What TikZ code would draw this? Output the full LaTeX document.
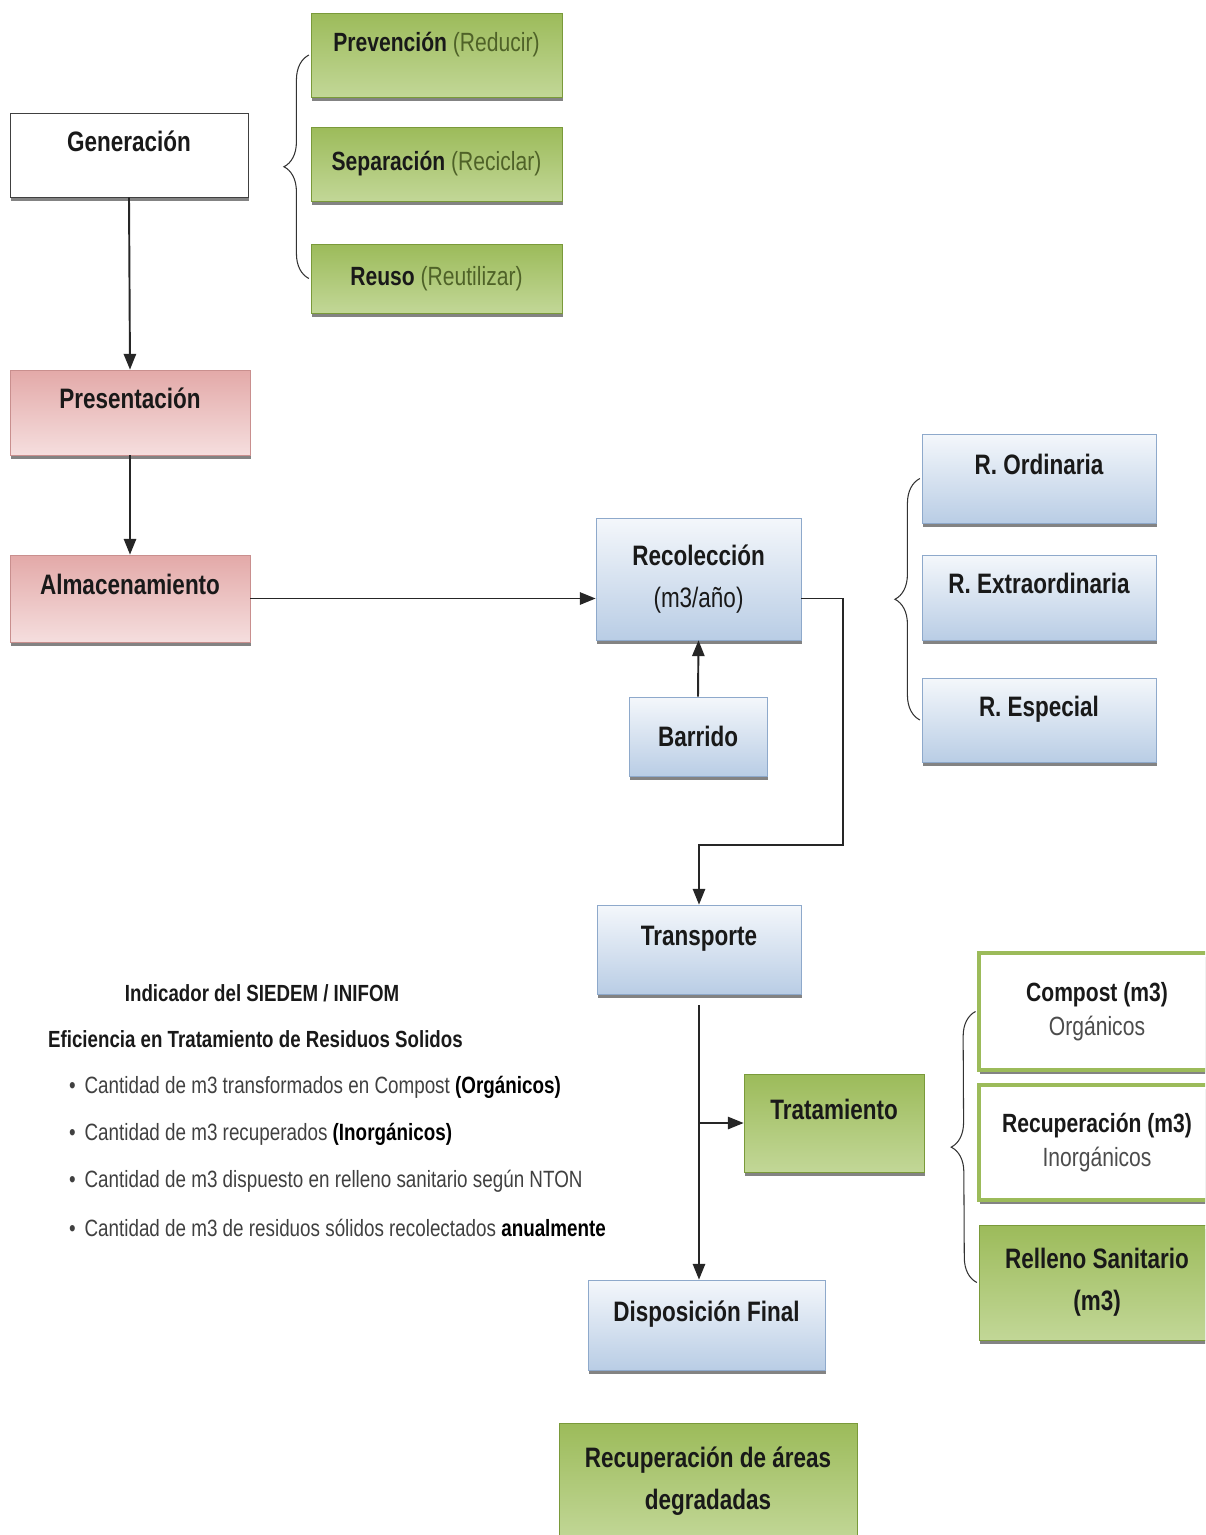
\documentclass[tikz,border=0pt]{standalone}
\usepackage{fontspec}
\setmainfont[FakeStretch=0.8]{Liberation Sans}
\usetikzlibrary{arrows.meta,shadows,decorations.pathreplacing}
\definecolor{grtop}{HTML}{9CBB5A}
\definecolor{grbot}{HTML}{C2D797}
\definecolor{grline}{HTML}{7A9A3A}
\definecolor{grtext}{HTML}{4F6228}
\definecolor{bltop}{HTML}{F4F7FB}
\definecolor{blbot}{HTML}{B9CDE5}
\definecolor{blline}{HTML}{8EA9CB}
\definecolor{pktop}{HTML}{E3A9A8}
\definecolor{pkbot}{HTML}{F5DEDE}
\definecolor{pkline}{HTML}{C98F8E}
\begin{document}
\begin{tikzpicture}[x=0.02cm,y=-0.02cm,
	box/.style={rectangle,draw,line width=0.4pt,align=center,text=black!90,
		font=\fontsize{16}{24}\selectfont\bfseries,
		drop shadow={shadow xshift=0.6pt,shadow yshift=-2.4pt,fill=black!75,opacity=0.65}},
	up/.style={text height=11pt,text depth=15pt},
	small/.style={font=\fontsize{15}{19}\selectfont\bfseries},
	whitebox/.style={box,fill=white,draw=black!75},
	greenbox/.style={box,draw=grline,top color=grtop,bottom color=grbot},
	bluebox/.style={box,draw=blline,top color=bltop,bottom color=blbot},
	pinkbox/.style={box,draw=pkline,top color=pktop,bottom color=pkbot},
	outbox/.style={box,small,fill=white,draw=grtop,line width=2pt},
	note/.style={anchor=west,text=black!75,font=\fontsize{13.4}{15}\selectfont},
	head/.style={text=black!90,font=\fontsize{13.3}{15}\selectfont\bfseries},
	arr/.style={line width=1.1pt,draw=black!85,-{Triangle[length=9pt,width=7pt]}},
	bracket/.style={draw=black!80,line width=0.6pt,decorate,decoration={brace,amplitude=0.5cm}}]
	\useasboundingbox (0,0) rectangle (1205,1535);
	\clip (0,0) rectangle (1205,1535);
	\node[whitebox,up,minimum width=4.76cm,minimum height=1.68cm] (gen) at (129,155) {Generación};
	\node[greenbox,small,up,minimum width=5.02cm,minimum height=1.68cm] (prev) at (436.5,55) {Prevención {\mdseries\color{grtext}(Reducir)}};
	\node[greenbox,small,minimum width=5.02cm,minimum height=1.48cm] (sep) at (436.5,164) {Separación {\mdseries\color{grtext}(Reciclar)}};
	\node[greenbox,small,minimum width=5.02cm,minimum height=1.38cm] (reuso) at (436.5,278.5) {Reuso {\mdseries\color{grtext}(Reutilizar)}};
	\node[pinkbox,up,minimum width=4.8cm,minimum height=1.7cm] (pres) at (130,412.5) {Presentación};
	\node[pinkbox,up,minimum width=4.8cm,minimum height=1.74cm] (alm) at (130,598.5) {Almacenamiento};
	\node[bluebox,minimum width=4.1cm,minimum height=2.44cm] (rec) at (698.5,579) {Recolección\\{\mdseries(m3/año)}};
	\node[bluebox,minimum width=2.76cm,minimum height=1.58cm] (barr) at (698,736.5) {Barrido};
	\node[bluebox,up,minimum width=4.68cm,minimum height=1.78cm] (rord) at (1039,478.5) {R. Ordinaria};
	\node[bluebox,up,minimum width=4.68cm,minimum height=1.7cm] (rext) at (1039,597.5) {R. Extraordinaria};
	\node[bluebox,up,minimum width=4.68cm,minimum height=1.68cm] (resp) at (1039,720) {R. Especial};
	\node[bluebox,up,minimum width=4.08cm,minimum height=1.78cm] (trans) at (699,949.5) {Transporte};
	\node[greenbox,up,minimum width=3.6cm,minimum height=1.96cm] (trat) at (834,1123) {Tratamiento};
	\node[bluebox,up,minimum width=4.74cm,minimum height=1.8cm] (disp) at (706.5,1325) {Disposición Final};
	\node[greenbox,minimum width=5.96cm,minimum height=2.34cm] (areas) at (708,1481.5) {Recuperación de áreas\\degradadas};
	\node[outbox,minimum width=4.72cm,minimum height=2.34cm] (comp) at (1097,1011.5) {Compost (m3)\\{\mdseries\color{black!70}Orgánicos}};
	\node[outbox,minimum width=4.72cm,minimum height=2.3cm] (recm) at (1097,1142.5) {Recuperación (m3)\\{\mdseries\color{black!70}Inorgánicos}};
	\node[greenbox,minimum width=4.72cm,minimum height=2.3cm] (rell) at (1097,1282.5) {Relleno Sanitario\\(m3)};
	\node[head] (ind) at (262,993) {Indicador del SIEDEM / INIFOM};
	\node[head,anchor=west] (efi) at (42,1039) {Eficiencia en Tratamiento de Residuos Solidos};
	\node[note] (it1) at (63,1087) {\textbullet\hspace{5pt}Cantidad de m3 transformados en Compost \textbf{\color{black}(Orgánicos)}};
	\node[note] (it2) at (63,1134) {\textbullet\hspace{5pt}Cantidad de m3 recuperados \textbf{\color{black}(Inorgánicos)}};
	\node[note] (it3) at (63,1181) {\textbullet\hspace{5pt}Cantidad de m3 dispuesto en relleno sanitario según NTON};
	\node[note] (it4) at (63,1228) {\textbullet\hspace{5pt}Cantidad de m3 de residuos sólidos recolectados \textbf{\color{black}anualmente}};
	\coordinate (bend) at (843,845);
	\draw[arr] (gen.south) -- (pres.north);
	\draw[arr] (pres.south) -- (alm.north);
	\draw[arr] (alm.east) -- (alm.east -| rec.west);
	\draw[arr] (barr.north) -- (rec.south);
	\draw[arr] (alm.east -| rec.east) -| (bend) -| (trans.north);
	\draw[arr,shorten <=0.22cm] (trans.south) -- (trans.south |- disp.north);
	\draw[arr] (trans.south |- trat.west) -- (trat.west);
	\draw[bracket] ([xshift=-1pt]reuso.west) -- ([xshift=-1pt]prev.west);
	\draw[bracket] ([xshift=-1pt]resp.west) -- ([xshift=-1pt]rord.west);
	\draw[bracket] ([xshift=-1pt]rell.west) -- ([xshift=-1pt]comp.west);
\end{tikzpicture}
\end{document}
